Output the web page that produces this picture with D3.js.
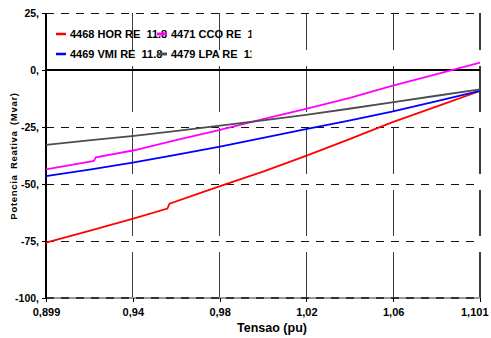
<!DOCTYPE html>
<html>
<head>
<meta charset="utf-8">
<script src="https://cdn.jsdelivr.net/npm/d3@7"></script>
<style>
  html, body { margin: 0; padding: 0; background: #fff; }
  svg { display: block; font-family: "Liberation Sans", Arial, sans-serif; font-weight: bold; }
  .legend-text { white-space: pre; }
  .crisp { shape-rendering: crispEdges; }
</style>
</head>
<body>
<svg id="chart" width="491" height="338"></svg>
<script>
// Reactive power (Mvar) versus bus voltage (pu) for four buses
const seriesNames = ["4468 HOR RE  11.8", "4471 CCO RE  11.8", "4469 VMI RE  11.8", "4479 LPA RE  11.8"];
const seriesColors = ["#ff0000", "#ff00ff", "#0000ff", "#4d4d4d"];

const horRE = [[0.899,-75.7],[0.92,-70.3],[0.94,-65.1],[0.9555,-60.8],[0.9565,-58.6],[0.98,-50.9],[1.0,-44.6],[1.02,-37.7],[1.04,-30.4],[1.06,-23.0],[1.08,-16.3],[1.101,-9.2]];
const ccoRE = [[0.899,-43.6],[0.9213,-39.9],[0.9222,-38.3],[0.94,-35.2],[0.96,-30.7],[0.98,-26.3],[1.0,-21.6],[1.02,-17.1],[1.04,-12.3],[1.06,-7.0],[1.08,-2.0],[1.101,3.2]];
const vmiRE = [[0.899,-46.5],[0.92,-43.6],[0.94,-40.5],[0.96,-37.1],[0.98,-33.6],[1.0,-29.8],[1.02,-25.9],[1.04,-22.2],[1.06,-18.3],[1.08,-13.9],[1.101,-9.2]];
const lpaRE = [[0.899,-32.8],[0.92,-30.8],[0.94,-28.9],[0.96,-26.7],[0.98,-24.4],[1.0,-22.1],[1.02,-19.7],[1.04,-17.0],[1.06,-14.2],[1.08,-11.4],[1.101,-8.5]];
const seriesData = [horRE, ccoRE, vmiRE, lpaRE];

const xTickValues = [0.899, 0.9394, 0.9798, 1.0202, 1.0606, 1.101];
const xTickLabels = ["0,899", "0,94", "0,98", "1,02", "1,06", "1,101"];
const yTickValues = [25, 0, -25, -50, -75, -100];
const yTickLabels = ["25,", "0,", "-25,", "-50,", "-75,", "-100,"];

const svg = d3.select("#chart");
const x = d3.scaleLinear().domain([0.899, 1.101]).range([46, 480]);
const y = d3.scaleLinear().domain([-100, 25]).range([298, 13]);

// vertical grid lines (long dashes, starting from the bottom)
svg.append("g").attr("class", "crisp").selectAll("line").data(xTickValues.slice(1)).join("line")
  .attr("x1", d => x(d)).attr("x2", d => x(d))
  .attr("y1", y(-100)).attr("y2", y(25))
  .attr("stroke", "#3a3a3a").attr("stroke-width", 1.3)
  .attr("stroke-dasharray", "46,16");

// horizontal grid lines
svg.append("g").attr("class", "crisp").selectAll("line").data(yTickValues.filter(v => v !== 0 && v !== -100)).join("line")
  .attr("x1", x(0.899)).attr("x2", x(1.101))
  .attr("y1", d => y(d)).attr("y2", d => y(d))
  .attr("stroke", "#111").attr("stroke-width", 1)
  .attr("stroke-dasharray", "8,7");

// zero line
svg.append("line").attr("class", "crisp")
  .attr("x1", x(0.899)).attr("x2", x(1.101))
  .attr("y1", y(0)).attr("y2", y(0))
  .attr("stroke", "#000").attr("stroke-width", 1.3);

// bottom axis line
svg.append("line").attr("class", "crisp")
  .attr("x1", x(0.899)).attr("x2", x(1.101))
  .attr("y1", y(-100)).attr("y2", y(-100))
  .attr("stroke", "#999").attr("stroke-width", 2);
svg.append("line").attr("class", "crisp")
  .attr("x1", x(0.899)).attr("x2", x(1.101))
  .attr("y1", y(-100)).attr("y2", y(-100))
  .attr("stroke", "#333").attr("stroke-width", 2)
  .attr("stroke-dasharray", "8,7");

// x axis ticks and labels
const xAxis = d3.axisBottom(x).tickValues(xTickValues)
  .tickFormat((d, i) => xTickLabels[i]).tickSize(4).tickPadding(6);
const gx = svg.append("g").attr("transform", `translate(0,${y(-100)})`).call(xAxis);
gx.select(".domain").remove();
gx.selectAll(".tick line").attr("stroke", "#000").attr("class", "crisp");
gx.selectAll(".tick text").attr("fill", "#000")
  .style("font-family", "'Liberation Sans', Arial, sans-serif")
  .style("font-weight", "bold").style("font-size", "11px");
// keep the last label inside the frame
gx.selectAll(".tick text").filter((d, i) => i === xTickValues.length - 1)
  .attr("text-anchor", "end").attr("x", 8);

// y axis ticks and labels
const yAxis = d3.axisLeft(y).tickValues(yTickValues)
  .tickFormat((d, i) => yTickLabels[i]).tickSize(4).tickPadding(3);
const gy = svg.append("g").attr("transform", `translate(${x(0.899)},0)`).call(yAxis);
gy.select(".domain").attr("stroke", "#000").attr("stroke-width", 1.3)
  .attr("class", "domain crisp").attr("d", `M0,${y(25)}V${y(-100)}`);
gy.selectAll(".tick line").attr("stroke", "#000").attr("class", "crisp");
gy.selectAll(".tick text").attr("fill", "#000")
  .style("font-family", "'Liberation Sans', Arial, sans-serif")
  .style("font-weight", "bold").style("font-size", "10.5px");

// series lines
const line = d3.line().x(d => x(d[0])).y(d => y(d[1]));
svg.append("g").selectAll("path").data(seriesData).join("path")
  .attr("d", line)
  .attr("fill", "none")
  .attr("stroke", (d, i) => seriesColors[i])
  .attr("stroke-width", 1.8);

// axis titles
svg.append("text")
  .attr("x", 272).attr("y", 332)
  .attr("text-anchor", "middle")
  .style("font-size", "12.5px")
  .text("Tensao (pu)");

svg.append("text")
  .attr("transform", "translate(17,156) rotate(-90)")
  .attr("text-anchor", "middle")
  .style("font-size", "9.5px")
  .style("letter-spacing", "0.7px")
  .style("word-spacing", "2px")
  .text("Potencia Reativa (Mvar)");

// legend: two columns, second column clipped at its right edge
svg.append("defs").append("clipPath").attr("id", "legendClip")
  .append("rect").attr("x", 0).attr("y", 0).attr("width", 251.5).attr("height", 80);

const legendPos = [[56, 34], [157, 34], [56, 54], [157, 54]];
const legend = svg.append("g").attr("clip-path", "url(#legendClip)");
const items = legend.selectAll("g").data(seriesNames).join("g")
  .attr("transform", (d, i) => `translate(${legendPos[i][0]},${legendPos[i][1]})`);
items.append("text")
  .attr("class", "legend-text")
  .attr("x", 14).attr("y", 3.8)
  .attr("xml:space", "preserve")
  .style("font-size", "11px")
  .text(d => d);
items.append("line")
  .attr("x1", 0).attr("x2", 10).attr("y1", 0).attr("y2", 0)
  .attr("stroke", (d, i) => seriesColors[i])
  .attr("stroke-width", 2.5);
// redraw second-column swatches above first-column text
legend.selectAll("line.top").data([1, 3]).join("line")
  .attr("x1", i => legendPos[i][0]).attr("x2", i => legendPos[i][0] + 10)
  .attr("y1", i => legendPos[i][1]).attr("y2", i => legendPos[i][1])
  .attr("stroke", i => seriesColors[i]).attr("stroke-width", 2.5);
</script>
</body>
</html>
